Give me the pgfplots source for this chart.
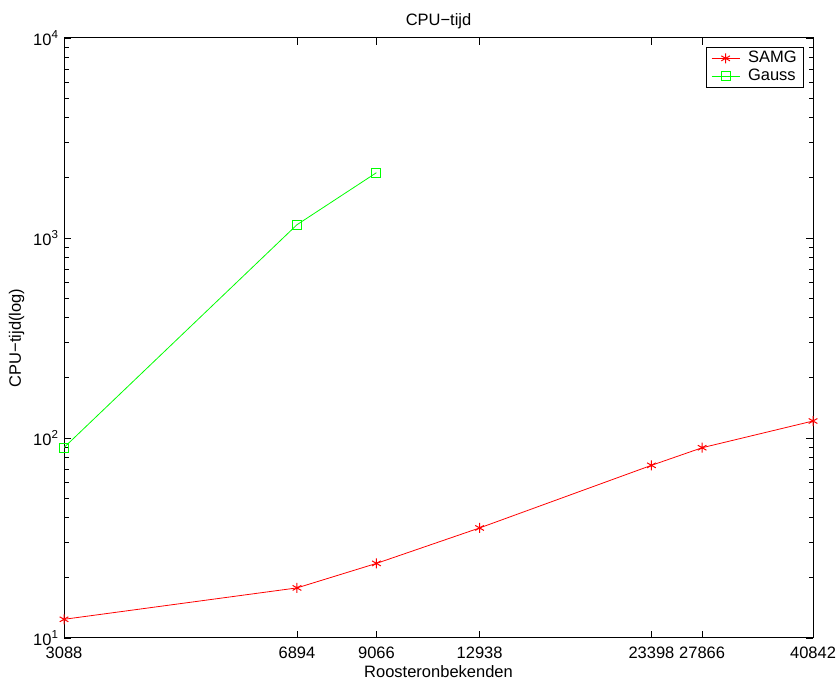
\documentclass[border=0pt]{standalone}
\usepackage{fontspec}
\setmainfont{Liberation Sans}
\usepackage{pgfplots}
\pgfplotsset{compat=1.18}
\begin{document}
\fontsize{16bp}{19bp}\selectfont
\begin{tikzpicture}
\begin{axis}[
  scale only axis,
  width=749bp, height=600bp,
  xmode=log, ymode=log,
  xmin=3088, xmax=40842,
  ymin=10, ymax=10000,
  xtick={3088,6894,9066,12938,23398,27866,40842},
  xticklabels={3088,6894,9066,12938,23398,27866,40842},
  ytick={10,100,1000,10000},
  yticklabels={10\textsuperscript{1},10\textsuperscript{2},10\textsuperscript{3},10\textsuperscript{4}},
  xminorticks=false,
  tick align=inside,
  tick pos=both,
  major tick length=7bp,
  minor tick length=4.5bp,
  axis line style={line width=1pt},
  every tick/.style={black, line width=0.8pt},
  tick label style={font=\fontsize{16.5bp}{19bp}\selectfont},
  xticklabel style={yshift=-3bp},
  label style={font=\fontsize{16.5bp}{19bp}\selectfont},
  title style={font=\fontsize{16.5bp}{19bp}\selectfont, yshift=-2bp},
  title={CPU−tijd},
  xlabel={Roosteronbekenden},
  ylabel={CPU−tijd(log)},
  xlabel style={yshift=4bp},
  ylabel style={yshift=-2bp},
  legend style={at={(1,1)}, anchor=north east, xshift=-9bp, yshift=-9bp,
    font=\fontsize{16.5bp}{19bp}\selectfont, draw=black, line width=0.8pt,
    inner xsep=5bp, inner ysep=2bp, row sep=0bp,
    /tikz/every odd column/.append style={column sep=6bp}},
  legend cell align=left,
  legend image code/.code={\draw[mark repeat=2,mark phase=2,#1] plot coordinates {(0bp,0bp) (14bp,0bp) (28bp,0bp)};},
]
\addplot[red, line width=0.8pt, mark=asterisk, mark size=5bp, mark options={line width=1pt}] coordinates {
  (3088,12.4) (6894,17.8) (9066,23.6) (12938,35.5) (23398,73.0) (27866,89.4) (40842,121.6)
};
\addlegendentry{SAMG}
\addplot[green, line width=0.8pt, mark=square, mark size=4.5bp, mark options={draw=green, fill=none, line width=1pt}] coordinates {
  (3088,89.6) (6894,1165) (9066,2121)
};
\addlegendentry{Gauss}
\end{axis}
\pgfresetboundingbox
\path (current axis.south west) ++(-64bp,-42bp) coordinate (bbsw);
\path (current axis.north east) ++(26bp,38bp) coordinate (bbne);
\path[use as bounding box] (bbsw) rectangle (bbne);
\end{tikzpicture}
\end{document}
